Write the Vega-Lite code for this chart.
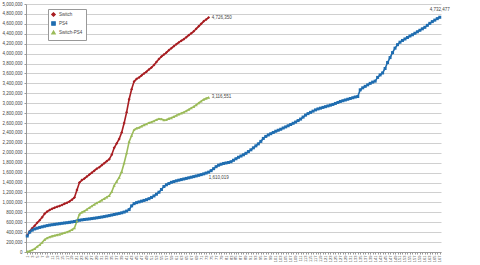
{
"$schema": "https://vega.github.io/schema/vega-lite/v6.json",
"width": 415, "height": 248,
"autosize": {"type": "none"},
"padding": {"left": 26, "top": 4, "right": 39, "bottom": 13},
"background": "white",
"config": {"view": {"stroke": null}, "font": "Liberation Sans",
 "legend": {"orient": "none", "legendX": 22, "legendY": 5, "labelFontSize": 4.5, "labelColor": "#444", "symbolSize": 12, "rowPadding": 0, "padding": 3, "strokeColor": "#999", "fillColor": "#fff", "labelOffset": 3, "symbolStrokeWidth": 1.2}},
"datasets": {
"sales": [
{"w":1,"s":"Switch","v":330637},{"w":2,"s":"Switch","v":420000},{"w":3,"s":"Switch","v":480000},{"w":4,"s":"Switch","v":530000},{"w":5,"s":"Switch","v":590000},{"w":6,"s":"Switch","v":640000},{"w":7,"s":"Switch","v":700000},{"w":8,"s":"Switch","v":770000},{"w":9,"s":"Switch","v":815000},{"w":10,"s":"Switch","v":845000},
{"w":11,"s":"Switch","v":870000},{"w":12,"s":"Switch","v":890000},{"w":13,"s":"Switch","v":910000},{"w":14,"s":"Switch","v":927000},{"w":15,"s":"Switch","v":950000},{"w":16,"s":"Switch","v":972000},{"w":17,"s":"Switch","v":994000},{"w":18,"s":"Switch","v":1020000},{"w":19,"s":"Switch","v":1055000},{"w":20,"s":"Switch","v":1100000},
{"w":21,"s":"Switch","v":1250000},{"w":22,"s":"Switch","v":1400000},{"w":23,"s":"Switch","v":1450000},{"w":24,"s":"Switch","v":1480000},{"w":25,"s":"Switch","v":1520000},{"w":26,"s":"Switch","v":1560000},{"w":27,"s":"Switch","v":1600000},{"w":28,"s":"Switch","v":1640000},{"w":29,"s":"Switch","v":1680000},{"w":30,"s":"Switch","v":1710000},
{"w":31,"s":"Switch","v":1750000},{"w":32,"s":"Switch","v":1790000},{"w":33,"s":"Switch","v":1830000},{"w":34,"s":"Switch","v":1870000},{"w":35,"s":"Switch","v":1960000},{"w":36,"s":"Switch","v":2100000},{"w":37,"s":"Switch","v":2190000},{"w":38,"s":"Switch","v":2280000},{"w":39,"s":"Switch","v":2410000},{"w":40,"s":"Switch","v":2600000},
{"w":41,"s":"Switch","v":2820000},{"w":42,"s":"Switch","v":3080000},{"w":43,"s":"Switch","v":3280000},{"w":44,"s":"Switch","v":3440000},{"w":45,"s":"Switch","v":3490000},{"w":46,"s":"Switch","v":3520000},{"w":47,"s":"Switch","v":3560000},{"w":48,"s":"Switch","v":3600000},{"w":49,"s":"Switch","v":3635000},{"w":50,"s":"Switch","v":3680000},
{"w":51,"s":"Switch","v":3720000},{"w":52,"s":"Switch","v":3770000},{"w":53,"s":"Switch","v":3830000},{"w":54,"s":"Switch","v":3890000},{"w":55,"s":"Switch","v":3940000},{"w":56,"s":"Switch","v":3980000},{"w":57,"s":"Switch","v":4020000},{"w":58,"s":"Switch","v":4070000},{"w":59,"s":"Switch","v":4110000},{"w":60,"s":"Switch","v":4150000},
{"w":61,"s":"Switch","v":4190000},{"w":62,"s":"Switch","v":4225000},{"w":63,"s":"Switch","v":4260000},{"w":64,"s":"Switch","v":4290000},{"w":65,"s":"Switch","v":4330000},{"w":66,"s":"Switch","v":4370000},{"w":67,"s":"Switch","v":4410000},{"w":68,"s":"Switch","v":4450000},{"w":69,"s":"Switch","v":4500000},{"w":70,"s":"Switch","v":4550000},
{"w":71,"s":"Switch","v":4600000},{"w":72,"s":"Switch","v":4650000},{"w":73,"s":"Switch","v":4690000},{"w":74,"s":"Switch","v":4726350},
{"w":1,"s":"PS4","v":322083},{"w":2,"s":"PS4","v":400000},{"w":3,"s":"PS4","v":440000},{"w":4,"s":"PS4","v":465000},{"w":5,"s":"PS4","v":480000},{"w":6,"s":"PS4","v":495000},{"w":7,"s":"PS4","v":508000},{"w":8,"s":"PS4","v":520000},{"w":9,"s":"PS4","v":532000},{"w":10,"s":"PS4","v":542000},
{"w":11,"s":"PS4","v":550000},{"w":12,"s":"PS4","v":557000},{"w":13,"s":"PS4","v":564000},{"w":14,"s":"PS4","v":571000},{"w":15,"s":"PS4","v":578000},{"w":16,"s":"PS4","v":585000},{"w":17,"s":"PS4","v":591000},{"w":18,"s":"PS4","v":598000},{"w":19,"s":"PS4","v":606000},{"w":20,"s":"PS4","v":615000},
{"w":21,"s":"PS4","v":625000},{"w":22,"s":"PS4","v":640000},{"w":23,"s":"PS4","v":648000},{"w":24,"s":"PS4","v":655000},{"w":25,"s":"PS4","v":661000},{"w":26,"s":"PS4","v":667000},{"w":27,"s":"PS4","v":674000},{"w":28,"s":"PS4","v":681000},{"w":29,"s":"PS4","v":689000},{"w":30,"s":"PS4","v":697000},
{"w":31,"s":"PS4","v":705000},{"w":32,"s":"PS4","v":714000},{"w":33,"s":"PS4","v":724000},{"w":34,"s":"PS4","v":734000},{"w":35,"s":"PS4","v":745000},{"w":36,"s":"PS4","v":756000},{"w":37,"s":"PS4","v":767000},{"w":38,"s":"PS4","v":778000},{"w":39,"s":"PS4","v":790000},{"w":40,"s":"PS4","v":805000},
{"w":41,"s":"PS4","v":825000},{"w":42,"s":"PS4","v":855000},{"w":43,"s":"PS4","v":930000},{"w":44,"s":"PS4","v":975000},{"w":45,"s":"PS4","v":995000},{"w":46,"s":"PS4","v":1010000},{"w":47,"s":"PS4","v":1025000},{"w":48,"s":"PS4","v":1040000},{"w":49,"s":"PS4","v":1055000},{"w":50,"s":"PS4","v":1075000},
{"w":51,"s":"PS4","v":1100000},{"w":52,"s":"PS4","v":1130000},{"w":53,"s":"PS4","v":1165000},{"w":54,"s":"PS4","v":1205000},{"w":55,"s":"PS4","v":1260000},{"w":56,"s":"PS4","v":1320000},{"w":57,"s":"PS4","v":1355000},{"w":58,"s":"PS4","v":1380000},{"w":59,"s":"PS4","v":1405000},{"w":60,"s":"PS4","v":1420000},
{"w":61,"s":"PS4","v":1435000},{"w":62,"s":"PS4","v":1448000},{"w":63,"s":"PS4","v":1460000},{"w":64,"s":"PS4","v":1472000},{"w":65,"s":"PS4","v":1484000},{"w":66,"s":"PS4","v":1496000},{"w":67,"s":"PS4","v":1508000},{"w":68,"s":"PS4","v":1520000},{"w":69,"s":"PS4","v":1533000},{"w":70,"s":"PS4","v":1546000},
{"w":71,"s":"PS4","v":1560000},{"w":72,"s":"PS4","v":1575000},{"w":73,"s":"PS4","v":1592000},{"w":74,"s":"PS4","v":1610019},{"w":75,"s":"PS4","v":1640000},{"w":76,"s":"PS4","v":1680000},{"w":77,"s":"PS4","v":1720000},{"w":78,"s":"PS4","v":1750000},{"w":79,"s":"PS4","v":1770000},{"w":80,"s":"PS4","v":1785000},
{"w":81,"s":"PS4","v":1795000},{"w":82,"s":"PS4","v":1805000},{"w":83,"s":"PS4","v":1820000},{"w":84,"s":"PS4","v":1850000},{"w":85,"s":"PS4","v":1880000},{"w":86,"s":"PS4","v":1910000},{"w":87,"s":"PS4","v":1935000},{"w":88,"s":"PS4","v":1960000},{"w":89,"s":"PS4","v":1990000},{"w":90,"s":"PS4","v":2025000},
{"w":91,"s":"PS4","v":2060000},{"w":92,"s":"PS4","v":2100000},{"w":93,"s":"PS4","v":2140000},{"w":94,"s":"PS4","v":2180000},{"w":95,"s":"PS4","v":2230000},{"w":96,"s":"PS4","v":2290000},{"w":97,"s":"PS4","v":2330000},{"w":98,"s":"PS4","v":2360000},{"w":99,"s":"PS4","v":2385000},{"w":100,"s":"PS4","v":2410000},
{"w":101,"s":"PS4","v":2435000},{"w":102,"s":"PS4","v":2455000},{"w":103,"s":"PS4","v":2475000},{"w":104,"s":"PS4","v":2500000},{"w":105,"s":"PS4","v":2522000},{"w":106,"s":"PS4","v":2545000},{"w":107,"s":"PS4","v":2570000},{"w":108,"s":"PS4","v":2595000},{"w":109,"s":"PS4","v":2620000},{"w":110,"s":"PS4","v":2650000},
{"w":111,"s":"PS4","v":2680000},{"w":112,"s":"PS4","v":2720000},{"w":113,"s":"PS4","v":2760000},{"w":114,"s":"PS4","v":2790000},{"w":115,"s":"PS4","v":2815000},{"w":116,"s":"PS4","v":2840000},{"w":117,"s":"PS4","v":2865000},{"w":118,"s":"PS4","v":2885000},{"w":119,"s":"PS4","v":2900000},{"w":120,"s":"PS4","v":2915000},
{"w":121,"s":"PS4","v":2930000},{"w":122,"s":"PS4","v":2945000},{"w":123,"s":"PS4","v":2960000},{"w":124,"s":"PS4","v":2975000},{"w":125,"s":"PS4","v":2995000},{"w":126,"s":"PS4","v":3015000},{"w":127,"s":"PS4","v":3035000},{"w":128,"s":"PS4","v":3050000},{"w":129,"s":"PS4","v":3065000},{"w":130,"s":"PS4","v":3080000},
{"w":131,"s":"PS4","v":3095000},{"w":132,"s":"PS4","v":3110000},{"w":133,"s":"PS4","v":3125000},{"w":134,"s":"PS4","v":3135000},{"w":135,"s":"PS4","v":3270000},{"w":136,"s":"PS4","v":3310000},{"w":137,"s":"PS4","v":3340000},{"w":138,"s":"PS4","v":3370000},{"w":139,"s":"PS4","v":3400000},{"w":140,"s":"PS4","v":3425000},
{"w":141,"s":"PS4","v":3445000},{"w":142,"s":"PS4","v":3520000},{"w":143,"s":"PS4","v":3570000},{"w":144,"s":"PS4","v":3610000},{"w":145,"s":"PS4","v":3700000},{"w":146,"s":"PS4","v":3820000},{"w":147,"s":"PS4","v":3920000},{"w":148,"s":"PS4","v":4020000},{"w":149,"s":"PS4","v":4110000},{"w":150,"s":"PS4","v":4180000},
{"w":151,"s":"PS4","v":4230000},{"w":152,"s":"PS4","v":4265000},{"w":153,"s":"PS4","v":4295000},{"w":154,"s":"PS4","v":4325000},{"w":155,"s":"PS4","v":4355000},{"w":156,"s":"PS4","v":4380000},{"w":157,"s":"PS4","v":4410000},{"w":158,"s":"PS4","v":4440000},{"w":159,"s":"PS4","v":4470000},{"w":160,"s":"PS4","v":4500000},
{"w":161,"s":"PS4","v":4530000},{"w":162,"s":"PS4","v":4570000},{"w":163,"s":"PS4","v":4610000},{"w":164,"s":"PS4","v":4645000},{"w":165,"s":"PS4","v":4675000},{"w":166,"s":"PS4","v":4705000},{"w":167,"s":"PS4","v":4732477},
{"w":1,"s":"Switch-PS4","v":8554},{"w":2,"s":"Switch-PS4","v":20000},{"w":3,"s":"Switch-PS4","v":40000},{"w":4,"s":"Switch-PS4","v":65000},{"w":5,"s":"Switch-PS4","v":110000},{"w":6,"s":"Switch-PS4","v":145000},{"w":7,"s":"Switch-PS4","v":192000},{"w":8,"s":"Switch-PS4","v":250000},{"w":9,"s":"Switch-PS4","v":283000},{"w":10,"s":"Switch-PS4","v":303000},
{"w":11,"s":"Switch-PS4","v":320000},{"w":12,"s":"Switch-PS4","v":333000},{"w":13,"s":"Switch-PS4","v":346000},{"w":14,"s":"Switch-PS4","v":356000},{"w":15,"s":"Switch-PS4","v":372000},{"w":16,"s":"Switch-PS4","v":387000},{"w":17,"s":"Switch-PS4","v":403000},{"w":18,"s":"Switch-PS4","v":422000},{"w":19,"s":"Switch-PS4","v":449000},{"w":20,"s":"Switch-PS4","v":485000},
{"w":21,"s":"Switch-PS4","v":625000},{"w":22,"s":"Switch-PS4","v":760000},{"w":23,"s":"Switch-PS4","v":802000},{"w":24,"s":"Switch-PS4","v":825000},{"w":25,"s":"Switch-PS4","v":859000},{"w":26,"s":"Switch-PS4","v":893000},{"w":27,"s":"Switch-PS4","v":926000},{"w":28,"s":"Switch-PS4","v":959000},{"w":29,"s":"Switch-PS4","v":991000},{"w":30,"s":"Switch-PS4","v":1013000},
{"w":31,"s":"Switch-PS4","v":1045000},{"w":32,"s":"Switch-PS4","v":1076000},{"w":33,"s":"Switch-PS4","v":1106000},{"w":34,"s":"Switch-PS4","v":1136000},{"w":35,"s":"Switch-PS4","v":1215000},{"w":36,"s":"Switch-PS4","v":1344000},{"w":37,"s":"Switch-PS4","v":1423000},{"w":38,"s":"Switch-PS4","v":1502000},{"w":39,"s":"Switch-PS4","v":1620000},{"w":40,"s":"Switch-PS4","v":1795000},
{"w":41,"s":"Switch-PS4","v":1995000},{"w":42,"s":"Switch-PS4","v":2225000},{"w":43,"s":"Switch-PS4","v":2350000},{"w":44,"s":"Switch-PS4","v":2465000},{"w":45,"s":"Switch-PS4","v":2495000},{"w":46,"s":"Switch-PS4","v":2510000},{"w":47,"s":"Switch-PS4","v":2535000},{"w":48,"s":"Switch-PS4","v":2560000},{"w":49,"s":"Switch-PS4","v":2580000},{"w":50,"s":"Switch-PS4","v":2605000},
{"w":51,"s":"Switch-PS4","v":2620000},{"w":52,"s":"Switch-PS4","v":2640000},{"w":53,"s":"Switch-PS4","v":2665000},{"w":54,"s":"Switch-PS4","v":2685000},{"w":55,"s":"Switch-PS4","v":2680000},{"w":56,"s":"Switch-PS4","v":2660000},{"w":57,"s":"Switch-PS4","v":2665000},{"w":58,"s":"Switch-PS4","v":2690000},{"w":59,"s":"Switch-PS4","v":2705000},{"w":60,"s":"Switch-PS4","v":2730000},
{"w":61,"s":"Switch-PS4","v":2755000},{"w":62,"s":"Switch-PS4","v":2777000},{"w":63,"s":"Switch-PS4","v":2800000},{"w":64,"s":"Switch-PS4","v":2818000},{"w":65,"s":"Switch-PS4","v":2846000},{"w":66,"s":"Switch-PS4","v":2874000},{"w":67,"s":"Switch-PS4","v":2902000},{"w":68,"s":"Switch-PS4","v":2930000},{"w":69,"s":"Switch-PS4","v":2967000},{"w":70,"s":"Switch-PS4","v":3004000},
{"w":71,"s":"Switch-PS4","v":3040000},{"w":72,"s":"Switch-PS4","v":3075000},{"w":73,"s":"Switch-PS4","v":3098000},{"w":74,"s":"Switch-PS4","v":3116551}
],
"labels": [
{"w":74,"s":"Switch","v":4726350,"t":"4,726,350"},
{"w":74,"s":"Switch-PS4","v":3116551,"t":"3,116,551"},
{"w":74,"s":"PS4","v":1610019,"t":"1,610,019"},
{"w":167,"s":"PS4","v":4732477,"t":"4,732,477"}
]
},
"encoding": {
"x": {"field": "w", "type": "ordinal", "scale": {"type": "point", "padding": 0.5},
 "axis": {"title": null, "labelAngle": -90, "labelFontSize": 4, "labelColor": "#444", "labelPadding": 1, "labelOverlap": false,
  "labelExpr": "datum.value % 2 == 1 ? datum.label : ''", "tickSize": 2, "tickColor": "#999", "domainColor": "#999", "grid": false}},
"y": {"field": "v", "type": "quantitative", "scale": {"domain": [0, 5000000], "nice": false},
 "axis": {"title": null, "format": ",.0f", "labelFontSize": 4.5, "labelColor": "#444", "labelPadding": 2, "tickSize": 2, "tickColor": "#999", "domainColor": "#999",
  "gridColor": "#D0D0D0", "gridWidth": 1,
  "values": [0,200000,400000,600000,800000,1000000,1200000,1400000,1600000,1800000,2000000,2200000,2400000,2600000,2800000,3000000,3200000,3400000,3600000,3800000,4000000,4200000,4400000,4600000,4800000,5000000]}}
},
"layer": [
{"data": {"name": "sales"}, "mark": {"type": "line", "strokeWidth": 1.6},
 "encoding": {"color": {"field": "s", "type": "nominal", "title": null, "scale": {"domain": ["Switch","PS4","Switch-PS4"], "range": ["#A81E22","#1F6DB0","#9BBB59"]}}}},
{"data": {"name": "sales"}, "mark": {"type": "point", "filled": true, "size": 9, "opacity": 1},
 "encoding": {
  "color": {"field": "s", "type": "nominal", "title": null, "scale": {"domain": ["Switch","PS4","Switch-PS4"], "range": ["#A81E22","#1F6DB0","#9BBB59"]}},
  "shape": {"field": "s", "type": "nominal", "title": null, "scale": {"domain": ["Switch","PS4","Switch-PS4"], "range": ["diamond","square","triangle-up"]}}
 }},
{"data": {"name": "labels"}, "transform": [{"filter": "datum.s != 'PS4'"}],
 "mark": {"type": "text", "align": "left", "baseline": "middle", "dx": 3, "fontSize": 4.5, "color": "#444"},
 "encoding": {"text": {"field": "t"}}},
{"data": {"name": "labels"}, "transform": [{"filter": "datum.s == 'PS4' && datum.w == 74"}],
 "mark": {"type": "text", "align": "left", "baseline": "middle", "dx": 0, "dy": 6, "fontSize": 4.5, "color": "#444"},
 "encoding": {"text": {"field": "t"}}},
{"data": {"name": "labels"}, "transform": [{"filter": "datum.s == 'PS4' && datum.w == 167"}],
 "mark": {"type": "text", "align": "center", "baseline": "middle", "dy": -7, "fontSize": 4.5, "color": "#444"},
 "encoding": {"text": {"field": "t"}}}
]
}
